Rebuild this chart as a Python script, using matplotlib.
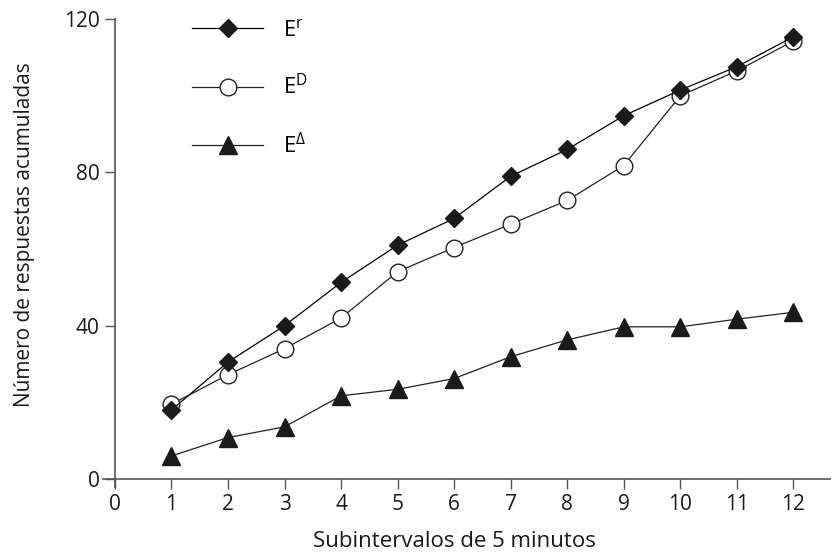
import numpy as np
import matplotlib.pyplot as plt
from matplotlib.lines import Line2D

plt.rcParams['font.family'] = ['Open Sans', 'DejaVu Sans']

# subintervals of 5 min and cumulative responses
subint = [1, 2, 3, 4, 5, 6, 7, 8, 9, 10, 11, 12]
e_r = [18, 30.5, 40, 51.3, 61, 68, 79, 86, 94.8, 101.5, 107.6, 115.4]
e_d = [19.5, 27.2, 34, 42, 54.1, 60.4, 66.5, 72.7, 81.8, 100, 106.5, 114.3]
e_delta = [6, 10.8, 13.6, 21.7, 23.4, 26.2, 31.9, 36.3, 39.7, 39.7, 41.7, 43.5]

xticks = list(range(0, 13))
yticks = [0, 40, 80, 120]

fig = plt.figure(figsize=(8.32, 5.55), dpi=100)
ax = fig.add_axes([0.1238, 0.1225, 0.874, 0.843])

lw = 0.9
ax.plot(subint, e_r, color='black', lw=lw, marker='D', ms=9,
        mfc='#1a1a1a', mec='#1a1a1a', zorder=3)
ax.plot(subint, e_d, color='#222222', lw=lw, marker='o', ms=12,
        mfc='white', mec='#222222', mew=1.0, zorder=2)
ax.plot(subint, e_delta, color='#222222', lw=lw, marker='^', ms=13,
        mfc='#1a1a1a', mec='#1a1a1a', zorder=3)

# axes cross slightly past the origin
ax.set_xlim(-0.21, 12.65)
ax.set_ylim(-2.1, 120)
ax.spines['left'].set_position(('data', 0))
ax.spines['bottom'].set_position(('data', 0))
ax.set_xticks(xticks)
ax.set_yticks(yticks)
ax.tick_params(direction='out', length=7, width=1, colors='#555555',
               labelcolor='#1a1a1a', labelsize=15, pad=4)
for s in ['top', 'right']:
    ax.spines[s].set_visible(False)
for s in ['left', 'bottom']:
    ax.spines[s].set_color('#555555')
    ax.spines[s].set_linewidth(1.2)

ax.set_xlabel('Subintervalos de 5 minutos', fontsize=16, color='#1a1a1a')
ax.set_ylabel('Número de respuestas acumuladas', fontsize=15, color='#1a1a1a')
ax.xaxis.set_label_coords(0.483, -0.093)
ax.yaxis.set_label_coords(-0.093, 0.54)

handles = [
    Line2D([], [], color='black', lw=lw, marker='D', ms=9, mfc='#1a1a1a', mec='#1a1a1a'),
    Line2D([], [], color='#222222', lw=lw, marker='o', ms=12, mfc='white', mec='#222222'),
    Line2D([], [], color='#222222', lw=lw, marker='^', ms=13, mfc='#1a1a1a', mec='#1a1a1a'),
]
labels = [r'E$^{\mathregular{r}}$', r'E$^{\mathregular{D}}$', r'E$^{\mathregular{\Delta}}$']
ax.legend(handles, labels, loc='upper left', bbox_to_anchor=(0.095, 1.043),
          frameon=False, fontsize=16, handlelength=3.2, labelspacing=1.5,
          handletextpad=0.9)

fig.savefig('out.png', dpi=100)
